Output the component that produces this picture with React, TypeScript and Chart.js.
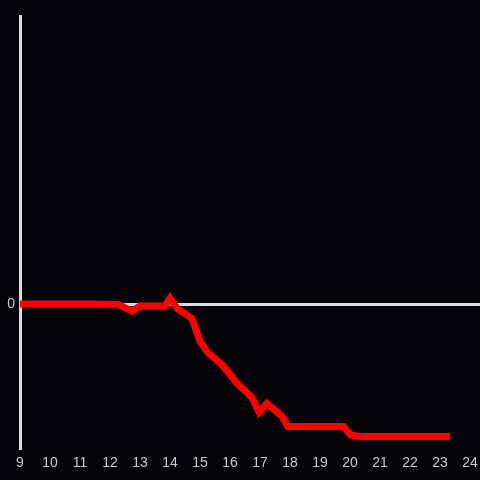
import React, { useEffect, useRef } from "react";
import { Chart, registerables } from "chart.js";

Chart.register(...registerables);

const hours = [9.0, 11.33, 12.27, 12.73, 13.0, 13.83, 14.0, 14.23, 14.73, 15.0, 15.27, 15.73, 16.23, 16.73, 16.97, 17.23, 17.73, 17.93, 19.77, 20.03, 20.33, 23.33];
const values = [0, 0, -0.003, -0.05, -0.014, -0.014, 0.04, -0.03, -0.1, -0.26, -0.34, -0.42, -0.55, -0.65, -0.75, -0.69, -0.78, -0.85, -0.85, -0.91, -0.92, -0.92];
const xTicks = [9, 10, 11, 12, 13, 14, 15, 16, 17, 18, 19, 20, 21, 22, 23, 24];
const yTicks = [0];

export default function App() {
  const ref = useRef<HTMLCanvasElement>(null);
  useEffect(() => {
    document.body.style.margin = "0";
    document.body.style.background = "#050308";
    const chart = new Chart(ref.current!, {
      type: "line",
      data: {
        datasets: [
          {
            data: hours.map((h, i) => ({ x: h, y: values[i] })),
            borderColor: "#ff0000",
            borderWidth: 7,
            pointRadius: 0,
            tension: 0,
            fill: false,
          },
        ],
      },
      options: {
        animation: false,
        responsive: false,
        maintainAspectRatio: false,
        layout: { padding: { top: 16, right: 0, left: 0, bottom: 0 } },
        plugins: { legend: { display: false }, tooltip: { enabled: false } },
        scales: {
          x: {
            type: "linear",
            min: 9,
            max: 9 + 460 / 30,
            afterBuildTicks: (s: any) => {
              s.ticks = xTicks.map((v) => ({ value: v }));
            },
            afterFit: (s: any) => {
              s.height = 32;
              s.paddingRight = 0;
              s.paddingLeft = 0;
            },
            grid: { display: false, drawTicks: false },
            border: { display: false },
            ticks: {
              color: "#cccccc",
              font: { size: 14, family: "'Liberation Sans', Arial, sans-serif" },
              padding: 7,
              maxRotation: 0,
              autoSkip: false,
            },
          },
          y: {
            type: "linear",
            min: -1,
            max: 2,
            afterBuildTicks: (s: any) => {
              s.ticks = yTicks.map((v) => ({ value: v }));
            },
            afterFit: (s: any) => {
              s.width = 20;
              s.paddingTop = 0;
              s.paddingBottom = 0;
            },
            grid: { color: "#dddddd", lineWidth: 3, drawTicks: false },
            border: { display: true, color: "#dddddd", width: 3 },
            ticks: {
              color: "#cccccc",
              font: { size: 14, family: "'Liberation Sans', Arial, sans-serif" },
              padding: 5,
            },
          },
        },
      },
      plugins: [
        {
          id: "bg",
          beforeDraw: (c: any) => {
            const ctx = c.ctx;
            ctx.save();
            ctx.fillStyle = "#050308";
            ctx.fillRect(0, 0, c.width, c.height);
            ctx.restore();
          },
        },
      ],
    });
    return () => chart.destroy();
  }, []);
  return (
    <div style={{ position: "absolute", left: 0, top: 0, width: 480, height: 480 }}>
      <canvas ref={ref} width={480} height={480} style={{ width: 480, height: 480 }} />
    </div>
  );
}
